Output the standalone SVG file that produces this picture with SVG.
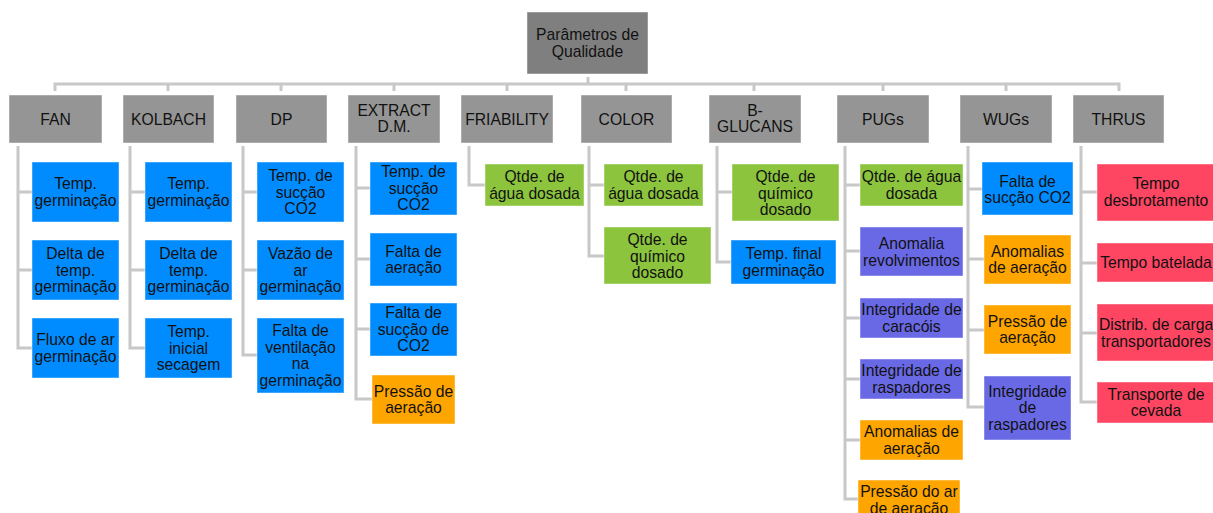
<svg xmlns="http://www.w3.org/2000/svg" width="1213" height="513" viewBox="0 0 1213 513">
<style>
text{font-family:"Liberation Sans",Arial,sans-serif;font-size:15.7px;fill:#111;text-anchor:middle}
rect{stroke:#ffffff;stroke-opacity:0.45;stroke-width:1}
.root{fill:#7f7f7f}
.l1{fill:#959595}
.blue{fill:#008cff}
.green{fill:#8cc43e}
.orange{fill:#ffa500}
.purple{fill:#6969e6}
.red{fill:#fe4562}
.c{fill:none;stroke:#c8c8c8;stroke-width:3}
</style>
<rect width="1213" height="513" fill="#fff" stroke="none"/>
<g id="connectors">
<path class="c" d="M55,91V84H1119V91M588,77V84M168,84V91M281,84V91M394,84V91M507,84V91M626,84V91M754,84V91M883,84V91M1006,84V91"/>
<path class="c" d="M18,146V348H32M18,192H32M18,270H32"/>
<path class="c" d="M130,146V348H145M130,192H145M130,270H145"/>
<path class="c" d="M243,146V355H257M243,192H257M243,270H257"/>
<path class="c" d="M356,146V399H372M356,188H370M356,259H370M356,329H370"/>
<path class="c" d="M469,146V185H485"/>
<path class="c" d="M589,146V256H604M589,185H604"/>
<path class="c" d="M717,146V262H731M717,192H732"/>
<path class="c" d="M845,146V499H858M845,185H860M845,251H860M845,318H860M845,379H860M845,440H860"/>
<path class="c" d="M968,146V407H984M968,189H982M968,259H984M968,330H984"/>
<path class="c" d="M1081,146V402H1097M1081,192H1097M1081,263H1097M1081,333H1097"/>
</g>
<g id="root"><rect class="root" x="527" y="12" width="121" height="62"/><text x="587.5" y="40">Parâmetros de</text><text x="587.5" y="57">Qualidade</text></g>
<g id="fan"><rect class="l1" x="9" y="95" width="93" height="48"/><text x="55.5" y="124.5">FAN</text></g>
<g id="kolbach"><rect class="l1" x="123" y="95" width="91" height="48"/><text x="168.5" y="124.5">KOLBACH</text></g>
<g id="dp"><rect class="l1" x="236" y="95" width="91" height="48"/><text x="281.5" y="124.5">DP</text></g>
<g id="extract"><rect class="l1" x="348" y="95" width="92" height="48"/><text x="394" y="116">EXTRACT</text><text x="394" y="132">D.M.</text></g>
<g id="friability"><rect class="l1" x="461" y="95" width="92" height="48"/><text x="507" y="124.5">FRIABILITY</text></g>
<g id="color"><rect class="l1" x="581" y="95" width="91" height="48"/><text x="626.5" y="124.5">COLOR</text></g>
<g id="bglucans"><rect class="l1" x="709" y="95" width="92" height="48"/><text x="755" y="116">B-</text><text x="755" y="132">GLUCANS</text></g>
<g id="pugs"><rect class="l1" x="837" y="95" width="92" height="48"/><text x="883" y="124.5">PUGs</text></g>
<g id="wugs"><rect class="l1" x="960" y="95" width="92" height="48"/><text x="1006" y="124.5">WUGs</text></g>
<g id="thrus"><rect class="l1" x="1073" y="95" width="91" height="48"/><text x="1118.5" y="124.5">THRUS</text></g>

<g id="fan1"><rect class="blue" x="32" y="162" width="87" height="60"/><text x="75.5" y="189">Temp.</text><text x="75.5" y="205.5">germinação</text></g>
<g id="fan2"><rect class="blue" x="32" y="240" width="87" height="60"/><text x="75.5" y="259">Delta de</text><text x="75.5" y="275.5">temp.</text><text x="75.5" y="292">germinação</text></g>
<g id="fan3"><rect class="blue" x="32" y="318" width="87" height="60"/><text x="75.5" y="345">Fluxo de ar</text><text x="75.5" y="361.5">germinação</text></g>

<g id="kol1"><rect class="blue" x="145" y="162" width="87" height="60"/><text x="188.5" y="189">Temp.</text><text x="188.5" y="205.5">germinação</text></g>
<g id="kol2"><rect class="blue" x="145" y="240" width="87" height="60"/><text x="188.5" y="259">Delta de</text><text x="188.5" y="275.5">temp.</text><text x="188.5" y="292">germinação</text></g>
<g id="kol3"><rect class="blue" x="145" y="318" width="87" height="60"/><text x="188.5" y="337">Temp.</text><text x="188.5" y="353.5">inicial</text><text x="188.5" y="370">secagem</text></g>

<g id="dp1"><rect class="blue" x="257" y="162" width="87" height="60"/><text x="300.5" y="181">Temp. de</text><text x="300.5" y="197.5">sucção</text><text x="300.5" y="214">CO2</text></g>
<g id="dp2"><rect class="blue" x="257" y="240" width="87" height="60"/><text x="300.5" y="259">Vazão de</text><text x="300.5" y="275.5">ar</text><text x="300.5" y="292">germinação</text></g>
<g id="dp3"><rect class="blue" x="257" y="318" width="87" height="75"/><text x="300.5" y="336">Falta de</text><text x="300.5" y="352.5">ventilação</text><text x="300.5" y="369">na</text><text x="300.5" y="385.5">germinação</text></g>

<g id="ext1"><rect class="blue" x="370" y="162" width="87" height="53"/><text x="413.5" y="177">Temp. de</text><text x="413.5" y="193.5">sucção</text><text x="413.5" y="210">CO2</text></g>
<g id="ext2"><rect class="blue" x="370" y="233" width="87" height="53"/><text x="413.5" y="256.5">Falta de</text><text x="413.5" y="273">aeração</text></g>
<g id="ext3"><rect class="blue" x="370" y="303" width="87" height="53"/><text x="413.5" y="318">Falta de</text><text x="413.5" y="334.5">sucção de</text><text x="413.5" y="351">CO2</text></g>
<g id="ext4"><rect class="orange" x="372" y="375" width="83" height="49"/><text x="413.5" y="396.5">Pressão de</text><text x="413.5" y="413">aeração</text></g>

<g id="fri1"><rect class="green" x="485" y="164" width="99" height="42"/><text x="534.5" y="182">Qtde. de</text><text x="534.5" y="198.5">água dosada</text></g>

<g id="col1"><rect class="green" x="604" y="164" width="99" height="42"/><text x="653.5" y="182">Qtde. de</text><text x="653.5" y="198.5">água dosada</text></g>
<g id="col2"><rect class="green" x="604" y="227" width="107" height="57"/><text x="657.5" y="245">Qtde. de</text><text x="657.5" y="261.5">químico</text><text x="657.5" y="278">dosado</text></g>

<g id="bgl1"><rect class="green" x="732" y="164" width="107" height="57"/><text x="785.5" y="182">Qtde. de</text><text x="785.5" y="198.5">químico</text><text x="785.5" y="215">dosado</text></g>
<g id="bgl2"><rect class="blue" x="731" y="240" width="105" height="44"/><text x="783.5" y="259">Temp. final</text><text x="783.5" y="275.5">germinação</text></g>

<g id="pug1"><rect class="green" x="860" y="164" width="103" height="42"/><text x="911.5" y="182">Qtde. de água</text><text x="911.5" y="198.5">dosada</text></g>
<g id="pug2"><rect class="purple" x="860" y="227" width="103" height="49"/><text x="911.5" y="249">Anomalia</text><text x="911.5" y="265.5">revolvimentos</text></g>
<g id="pug3"><rect class="purple" x="860" y="298" width="103" height="40"/><text x="911.5" y="315">Integridade de</text><text x="911.5" y="331.5">caracóis</text></g>
<g id="pug4"><rect class="purple" x="860" y="359" width="103" height="40"/><text x="911.5" y="376">Integridade de</text><text x="911.5" y="392.5">raspadores</text></g>
<g id="pug5"><rect class="orange" x="860" y="420" width="103" height="40"/><text x="911.5" y="437">Anomalias de</text><text x="911.5" y="453.5">aeração</text></g>
<g id="pug6"><rect class="orange" x="858" y="480" width="102" height="40"/><text x="909" y="497">Pressão do ar</text><text x="909" y="513.5">de aeração</text></g>

<g id="wug1"><rect class="blue" x="982" y="162" width="91" height="53"/><text x="1027.5" y="186.5">Falta de</text><text x="1027.5" y="203">sucção CO2</text></g>
<g id="wug2"><rect class="orange" x="984" y="235" width="87" height="49"/><text x="1027.5" y="256.5">Anomalias</text><text x="1027.5" y="273">de aeração</text></g>
<g id="wug3"><rect class="orange" x="984" y="305" width="87" height="49"/><text x="1027.5" y="326.5">Pressão de</text><text x="1027.5" y="343">aeração</text></g>
<g id="wug4"><rect class="purple" x="984" y="376" width="87" height="64"/><text x="1027.5" y="396.5">Integridade</text><text x="1027.5" y="413">de</text><text x="1027.5" y="429.5">raspadores</text></g>

<g id="thr1"><rect class="red" x="1097" y="164" width="120" height="57"/><text x="1156" y="189">Tempo</text><text x="1156" y="205.5">desbrotamento</text></g>
<g id="thr2"><rect class="red" x="1097" y="243" width="120" height="39"/><text x="1156" y="268">Tempo batelada</text></g>
<g id="thr3"><rect class="red" x="1097" y="304" width="120" height="57"/><text x="1156" y="330">Distrib. de carga</text><text x="1156" y="346.5">transportadores</text></g>
<g id="thr4"><rect class="red" x="1097" y="382" width="120" height="41"/><text x="1156" y="399.5">Transporte de</text><text x="1156" y="416">cevada</text></g>
</svg>
